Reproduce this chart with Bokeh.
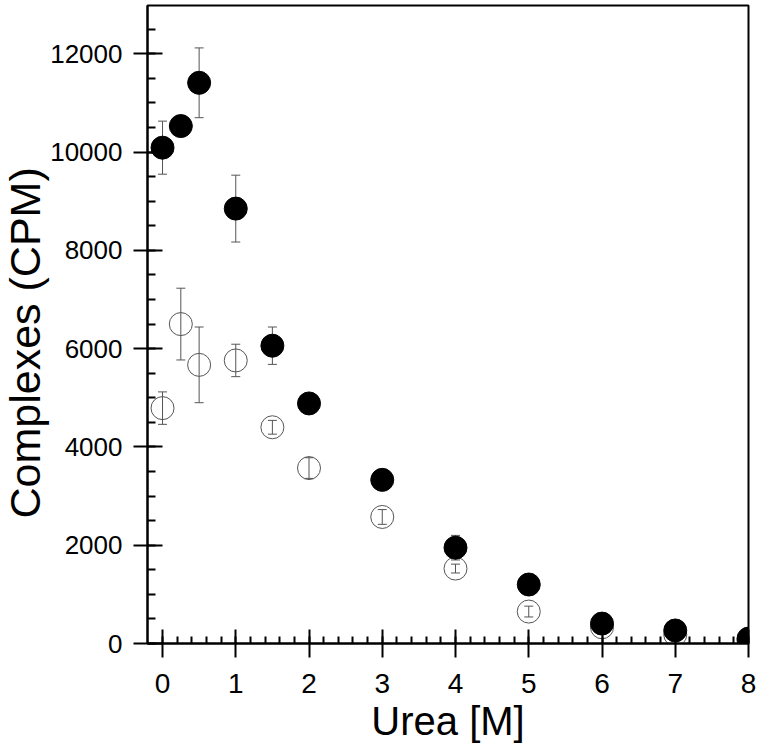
import math
from bokeh.plotting import figure
from bokeh.models import (ColumnDataSource, Range1d, FixedTicker, Whisker,
                          TeeHead, Title)
from bokeh.embed import file_html
from bokeh.resources import INLINE

# ---- data ----
urea = [0, 0.25, 0.5, 1, 1.5, 2, 3, 4, 5, 6, 7, 8]
filled_cpm = [10090, 10530, 11410, 8850, 6060, 4885, 3330, 1950, 1200, 405, 265, 100]
filled_err = [540, 200, 710, 680, 380, 200, 150, 250, 150, 100, 80, 50]
open_cpm = [4790, 6500, 5670, 5760, 4400, 3570, 2575, 1525, 650, 330, 180, 60]
open_err = [330, 730, 770, 330, 140, 210, 150, 90, 110, 60, 50, 30]

x_ticks = [0, 1, 2, 3, 4, 5, 6, 7, 8]
y_ticks = [0, 2000, 4000, 6000, 8000, 10000, 12000]

FONT = "Liberation Sans"

src_f = ColumnDataSource(dict(
    x=urea, y=filled_cpm,
    lo=[v - e for v, e in zip(filled_cpm, filled_err)],
    hi=[v + e for v, e in zip(filled_cpm, filled_err)]))
src_o = ColumnDataSource(dict(
    x=urea, y=open_cpm,
    lo=[v - e for v, e in zip(open_cpm, open_err)],
    hi=[v + e for v, e in zip(open_cpm, open_err)]))

p = figure(width=761, height=748, output_backend="svg", toolbar_location=None,
           x_range=Range1d(-0.205, 8.0), y_range=Range1d(0, 12983),
           min_border_left=147, min_border_right=13, min_border_top=5,
           min_border_bottom=105)

p.grid.visible = False
p.background_fill_color = "white"
p.border_fill_color = "white"
p.outline_line_color = "black"
p.outline_line_width = 2

# x axis
xa = p.xaxis[0]
xa.ticker = FixedTicker(ticks=x_ticks, minor_ticks=[i * 0.2 for i in range(0, 41)])
xa.axis_line_width = 2
xa.major_tick_line_width = 2
xa.minor_tick_line_width = 2
xa.major_tick_in = 14
xa.major_tick_out = 14
xa.minor_tick_in = 7
xa.minor_tick_out = 0
xa.major_label_text_font = FONT
xa.major_label_text_font_size = "28px"
xa.major_label_text_color = "black"
xa.major_label_standoff = 16
xa.axis_label = "Urea [M]"
xa.axis_label_text_font = FONT
xa.axis_label_text_font_size = "40px"
xa.axis_label_text_font_style = "normal"
xa.axis_label_text_color = "black"
xa.axis_label_standoff = 3

# y axis
ya = p.yaxis[0]
ya.ticker = FixedTicker(ticks=y_ticks, minor_ticks=[i * 500 for i in range(0, 27)])
ya.axis_line_width = 2
ya.major_tick_line_width = 2
ya.minor_tick_line_width = 2
ya.major_tick_in = 15
ya.major_tick_out = 14
ya.minor_tick_in = 8
ya.minor_tick_out = 0
ya.major_label_text_font = FONT
ya.major_label_text_font_size = "26px"
ya.major_label_text_color = "black"
ya.major_label_standoff = 11

# error bars (drawn beneath markers)
for src in (src_o, src_f):
    w = Whisker(base="x", lower="lo", upper="hi", source=src,
                line_color="#555555", line_width=1,
                upper_head=TeeHead(size=9, line_color="#555555", line_width=1),
                lower_head=TeeHead(size=9, line_color="#555555", line_width=1))
    p.add_layout(w)

p.scatter("x", "y", source=src_o, size=23, marker="circle",
          fill_alpha=0, line_color="#555555", line_width=1)
p.scatter("x", "y", source=src_f, size=23, marker="circle",
          fill_color="black", line_color="black")

ytitle = Title(text="Complexes (CPM)", align="left", offset=125, standoff=-3,
               text_font=FONT, text_font_size="43px", text_font_style="normal",
               text_color="black", text_line_height=1.0)
p.add_layout(ytitle, "left")

open("out.html", "w").write(file_html(p, INLINE))
